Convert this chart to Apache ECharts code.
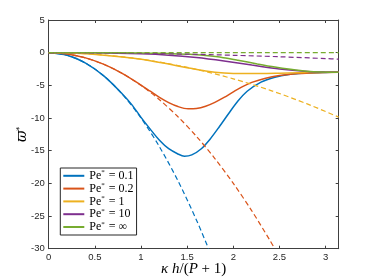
<!DOCTYPE html>
<html>
<head>
<meta charset="utf-8">
<script src="https://cdn.jsdelivr.net/npm/echarts@6/dist/echarts.min.js"></script>
<style>html,body{margin:0;padding:0;background:#fff}#c{width:374px;height:280px}</style>
</head>
<body>
<div id="c"></div>
<script>
// ---- data ----
var PI = 3.14159;
var legendNames = ['Pe* = 0.1', 'Pe* = 0.2', 'Pe* = 1', 'Pe* = 10', 'Pe* = ∞'];
var colors = ['#0072BD', '#D95319', '#EDB120', '#7E2F8E', '#77AC30'];

// solid curves
var blueX = [0, 0.2, 0.4, 0.6, 0.8, 0.9, 1.0, 1.1, 1.2, 1.3, 1.4, 1.47, 1.55, 1.65, 1.75, 1.85, 1.95, 2.05, 2.15, 2.3, 2.45, 2.6, 2.8, 3.0, PI];
var blueY = [0, -0.4, -1.6, -3.6, -6.35, -7.95, -9.9, -11.7, -13.4, -14.7, -15.5, -15.85, -15.65, -14.75, -13.2, -11.3, -9.3, -7.4, -5.9, -4.5, -3.75, -3.35, -3.12, -3.03, -3.0];
var redX = [0, 0.2, 0.4, 0.6, 0.8, 1.0, 1.1, 1.2, 1.3, 1.4, 1.51, 1.6, 1.7, 1.8, 1.9, 2.0, 2.1, 2.2, 2.35, 2.5, 2.7, 2.9, PI];
var redY = [0, -0.2, -0.8, -1.8, -3.2, -4.95, -5.9, -6.85, -7.65, -8.25, -8.6, -8.55, -8.2, -7.6, -6.85, -6.0, -5.2, -4.55, -3.9, -3.5, -3.2, -3.06, -3.0];
var yellowX = [0, 0.3, 0.6, 0.9, 1.1, 1.3, 1.5, 1.7, 1.9, 2.1, 2.3, 2.5, 2.7, 2.9, PI];
var yellowY = [0, -0.1, -0.38, -0.83, -1.25, -1.75, -2.3, -2.8, -3.1, -3.2, -3.2, -3.15, -3.08, -3.03, -3.0];
var purpleX = [0, 0.5, 1.0, 1.3, 1.6, 1.9, 2.2, 2.5, 2.8, 3.0, PI];
var purpleY = [0, -0.03, -0.18, -0.38, -0.75, -1.28, -1.9, -2.5, -2.88, -2.98, -3.0];
var greenX = [0, 0.8, 1.1, 1.3, 1.53, 1.7, 1.89, 2.05, 2.26, 2.45, 2.62, 2.8, 2.95, PI];
var greenY = [0, 0, -0.08, -0.14, -0.25, -0.45, -0.76, -1.15, -1.72, -2.2, -2.55, -2.85, -2.97, -3.0];

// dashed curves
var blueDX = [0, 0.2, 0.4, 0.6, 0.8, 1.0, 1.2, 1.4, 1.6, 1.732];
var blueDY = [0, -0.4, -1.6, -3.6, -6.4, -10, -14.4, -19.6, -25.6, -30];
var redDX = [0, 0.2, 0.4, 0.6, 0.8, 1.0, 1.2, 1.4, 1.6, 1.8, 2.0, 2.2, 2.4, 2.449];
var redDY = [0, -0.2, -0.8, -1.8, -3.2, -5, -7.2, -9.8, -12.8, -16.2, -20, -24.2, -28.8, -30];
var yellowDX = [0, 0.4, 0.8, 1.2, 1.6, 2.0, 2.4, 2.8, PI];
var yellowDY = [0, -0.16, -0.64, -1.44, -2.56, -4, -5.76, -7.84, -9.87];
var purpleDX = [0, 0.5, 1.0, 1.5, 2.0, 2.5, 3.0, PI];
var purpleDY = [0, -0.025, -0.1, -0.225, -0.4, -0.625, -0.9, -0.99];
var greenDX = [0, PI];
var greenDY = [0, 0];

var xTicks = [0, 0.5, 1, 1.5, 2, 2.5, 3];
var yTicks = [5, 0, -5, -10, -15, -20, -25, -30];

function pairs(xs, ys) { return xs.map(function (x, i) { return [x, ys[i]]; }); }

var solids = [[blueX, blueY], [redX, redY], [yellowX, yellowY], [purpleX, purpleY], [greenX, greenY]];
var dashes = [[blueDX, blueDY], [redDX, redDY], [yellowDX, yellowDY], [purpleDX, purpleDY], [greenDX, greenDY]];

var series = [];
solids.forEach(function (s, i) {
  series.push({
    name: legendNames[i], type: 'line', data: pairs(s[0], s[1]),
    showSymbol: false, symbol: 'none', smooth: 0.3,
    lineStyle: { color: colors[i], width: 1.5 }, itemStyle: { color: colors[i] },
    z: 3 + i
  });
});
dashes.forEach(function (s, i) {
  series.push({
    name: 'd' + i, type: 'line', data: pairs(s[0], s[1]),
    showSymbol: false, symbol: 'none', smooth: 0.3,
    lineStyle: { color: colors[i], width: 1.2, type: [5, 3] }, itemStyle: { color: colors[i] },
    z: 10 + i
  });
});

var axisColor = '#404040';
var labelFont = { color: '#262626', fontSize: 9.5, fontFamily: 'Liberation Sans, Arial, sans-serif' };

var chart = echarts.init(document.getElementById('c'), null, { renderer: 'canvas' });
chart.setOption({
  animation: false,
  backgroundColor: '#fff',
  grid: { left: 48.7, right: 35.3, top: 20, bottom: 31.3, containLabel: false, outerBoundsMode: 'none' },
  legend: {
    data: legendNames.map(function (n) { return { name: n, icon: 'rect' }; }),
    orient: 'vertical', left: 60.3, top: 168,
    itemWidth: 21, itemHeight: 2, itemGap: 0,
    padding: [1, 3, 2, 3],
    backgroundColor: '#fff', borderColor: '#262626', borderWidth: 1, borderRadius: 0,
    formatter: function (n) {
      var v = n.split('= ')[1];
      return '{a|Pe}{s|*}{a| = ' + v + '}';
    },
    textStyle: {
      color: '#000', fontFamily: 'Liberation Serif, serif', fontSize: 12,
      rich: {
        a: { fontFamily: 'Liberation Serif, serif', fontSize: 12, lineHeight: 13.6 },
        s: { fontFamily: 'Liberation Serif, serif', fontSize: 7, lineHeight: 13.6, verticalAlign: 'top', padding: [0, 1, 4, 0] }
      }
    }
  },
  xAxis: [{
    type: 'value', min: 0, max: PI, interval: 0.5, position: 'bottom',
    name: '{i|κ h}{r|/(}{i|P}{r| + 1)}', nameLocation: 'middle', nameGap: 13, nameMoveOverlap: false,
    nameTextStyle: {
      rich: {
        i: { fontFamily: 'Liberation Serif, serif', fontStyle: 'italic', fontSize: 15, color: '#000' },
        r: { fontFamily: 'Liberation Serif, serif', fontSize: 15, color: '#000' }
      }
    },
    axisLine: { show: true, onZero: false, lineStyle: { color: axisColor, width: 1 } },
    axisTick: { show: true, inside: true, length: 3, lineStyle: { color: axisColor } },
    axisLabel: {
      show: true, margin: 4, showMaxLabel: false,
      formatter: function (v) { return xTicks.indexOf(Math.round(v * 100) / 100) >= 0 ? String(Math.round(v * 100) / 100) : ''; },
      color: labelFont.color, fontSize: labelFont.fontSize, fontFamily: labelFont.fontFamily
    },
    splitLine: { show: false }
  }, {
    type: 'value', min: 0, max: PI, interval: 0.5, position: 'top',
    axisLine: { show: true, onZero: false, lineStyle: { color: axisColor, width: 1 } },
    axisTick: { show: true, inside: true, length: 3, lineStyle: { color: axisColor } },
    axisLabel: { show: false }, splitLine: { show: false }
  }],
  yAxis: [{
    type: 'value', min: -30, max: 5, interval: 5, position: 'left',
    name: '{v|ϖ}{s|*}', nameLocation: 'middle', nameGap: 19, nameRotate: 90, nameMoveOverlap: false,
    nameTextStyle: {
      rich: {
        v: { fontFamily: 'DejaVu Serif, serif', fontStyle: 'italic', fontSize: 14, color: '#000' },
        s: { fontFamily: 'DejaVu Serif, serif', fontSize: 8, color: '#000', verticalAlign: 'top', padding: [0, 0, 6, 0] }
      }
    },
    axisLine: { show: true, onZero: false, lineStyle: { color: axisColor, width: 1 } },
    axisTick: { show: true, inside: true, length: 3, lineStyle: { color: axisColor } },
    axisLabel: {
      show: true, margin: 4,
      formatter: function (v) { return yTicks.indexOf(v) >= 0 ? String(v) : ''; },
      color: labelFont.color, fontSize: labelFont.fontSize, fontFamily: labelFont.fontFamily
    },
    splitLine: { show: false }
  }, {
    type: 'value', min: -30, max: 5, interval: 5, position: 'right',
    axisLine: { show: true, onZero: false, lineStyle: { color: axisColor, width: 1 } },
    axisTick: { show: true, inside: true, length: 3, lineStyle: { color: axisColor } },
    axisLabel: { show: false }, splitLine: { show: false }
  }],
  series: series
});
</script>
</body>
</html>
